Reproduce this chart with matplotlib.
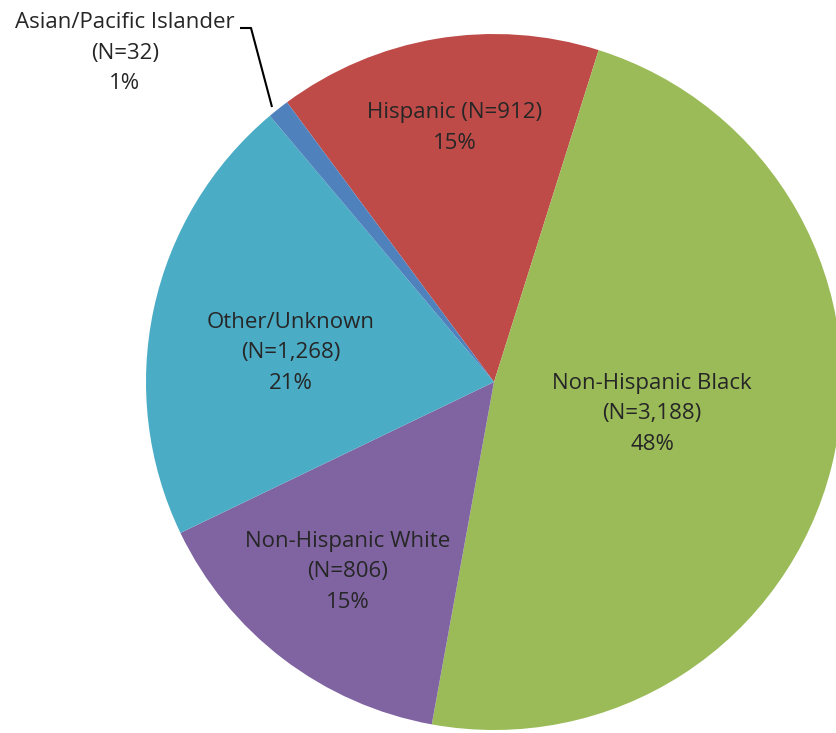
import matplotlib.pyplot as plt

# Race/ethnicity breakdown
groups = ['Hispanic', 'Non-Hispanic Black', 'Non-Hispanic White',
          'Other/Unknown', 'Asian/Pacific Islander']
counts = ['912', '3,188', '806', '1,268', '32']
percents = [15, 48, 15, 21, 1]
colors = ['#BE4B48', '#9BBB59', '#8064A2', '#4BACC6', '#4F81BD']

fig = plt.figure(figsize=(8.37, 7.33), dpi=100)
ax = fig.add_axes([0, 0, 1, 1])

# work in pixel-like units so the pie can run off the right edge
cx, cy, r = 494, 351, 348
wedges, _ = ax.pie(percents, colors=colors, startangle=126.5,
                   counterclock=False, radius=r, center=(cx, cy),
                   wedgeprops=dict(linewidth=0))

ax.set_xlim(0, 837)
ax.set_ylim(0, 733)
ax.set_aspect('equal')
ax.axis('off')

txt = dict(ha='center', va='center', fontsize=16, color='#262626',
           family='Open Sans', linespacing=1.58)

# label positions for each slice (pixel units)
label_pos = [(455, 605), (652, 319), (348, 161), (291, 380), (125, 680)]
for g, n, p, (x, y) in zip(groups, counts, percents, label_pos):
    if g == 'Hispanic':
        s = f'{g} (N={n})\n{p}%'
    else:
        s = f'{g}\n(N={n})\n{p}%'
    ax.text(x, y, s, **txt)

# leader line for the small slice
ax.plot([240, 251, 272], [705, 705, 626], color='black', lw=1.5,
        solid_capstyle='butt')

fig.savefig('out.png', dpi=100)
